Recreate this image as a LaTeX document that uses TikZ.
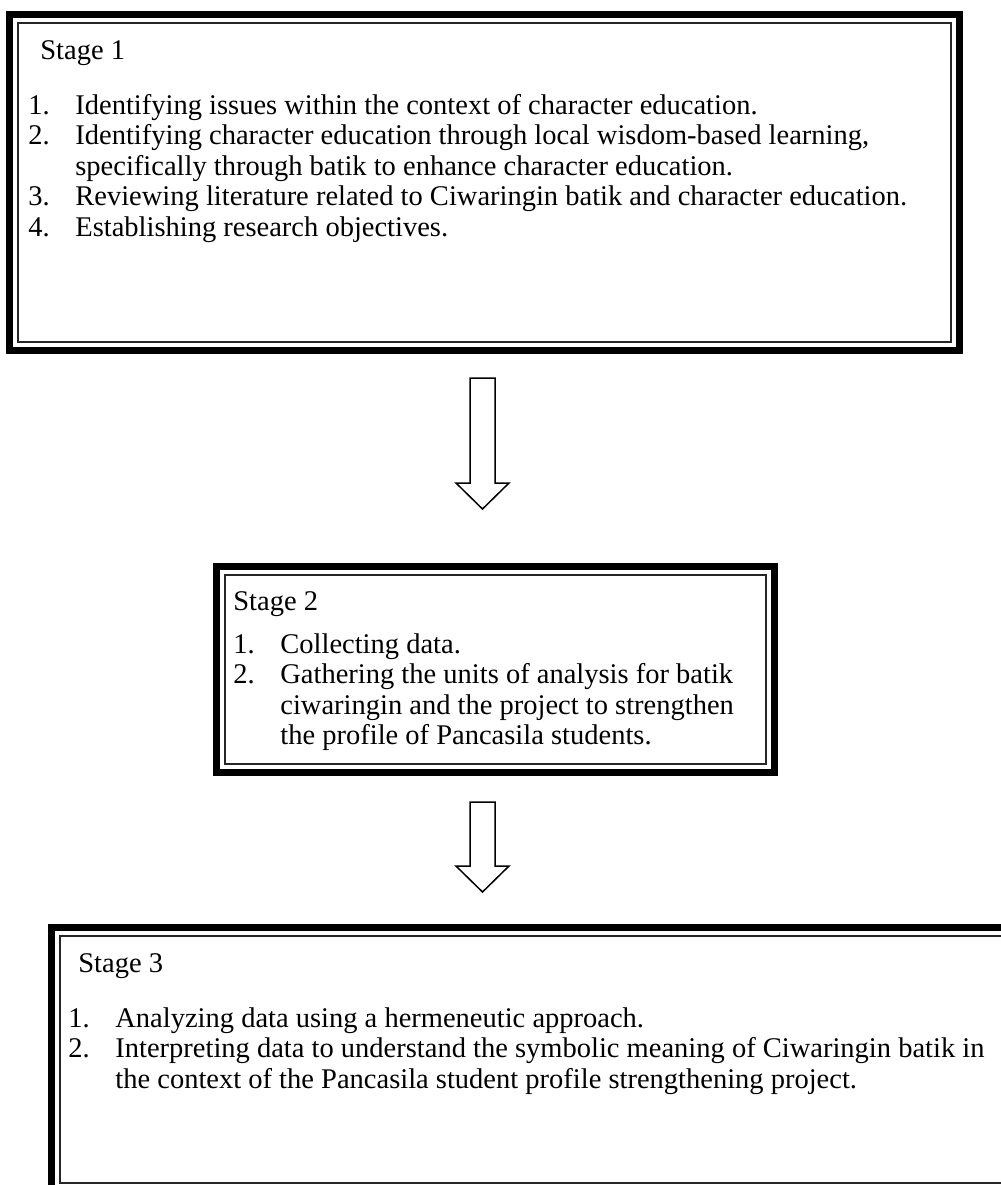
\documentclass[tikz,border=0pt]{standalone}
\usepackage{fontspec}
\setmainfont{Liberation Serif}
\usetikzlibrary{calc,fit}

\tikzset{
  stagebox/.style={draw, line width=3.5pt, inner sep=0pt, outer sep=0pt},
  innerline/.style={draw=black!85, line width=1pt},
  stagetext/.style={anchor=base west, inner sep=0pt, font=\fontsize{14.25pt}{15.25pt}\selectfont},
  arrowline/.style={draw, line width=0.75pt, line join=miter, fill=white}
}

% Blockpfeil von #1 nach #2
\newcommand{\stagearrow}[2]{%
  \draw[arrowline] ($(#1)+(-12.5,0)$) -- ($(#2)+(-12.5,-26)$) -- ($(#2)+(-26.5,-26)$)
    -- (#2) -- ($(#2)+(26.5,-26)$) -- ($(#2)+(12.5,-26)$) -- ($(#1)+(12.5,0)$) -- cycle;}

\begin{document}
\begin{tikzpicture}[x=0.5pt, y=-0.5pt]
        \useasboundingbox (0,0) rectangle (1001,1185);
        \clip (0,0) rectangle (1001,1185);
        \fill[white] (0,0) rectangle (1001,1185);

        % Kästchen
        \coordinate (c1a) at (9.5,14);   \coordinate (c1b) at (959.5,350.5);
        \coordinate (c2a) at (216.5,566.5); \coordinate (c2b) at (774.5,772);
        \coordinate (c3a) at (51,927.5); \coordinate (c3b) at (1012,1191);
        \node[stagebox, fit=(c1a)(c1b)] (s1) {};
        \node[stagebox, fit=(c2a)(c2b)] (s2) {};
        \node[stagebox, fit=(c3a)(c3b)] (s3) {};
        \draw[innerline] ($(s1.north west)+(8.5,8.5)$) rectangle ($(s1.south east)+(-8.5,-8.5)$);
        \draw[innerline] ($(s2.north west)+(8.5,8.5)$) rectangle ($(s2.south east)+(-8.5,-8.5)$);
        \draw[innerline] ($(s3.north west)+(8.5,8.5)$) rectangle ($(s3.south east)+(-8.5,-8.5)$);

        % Pfeile
        \coordinate (a1s) at (482.5,378); \coordinate (a1e) at (482.5,509);
        \coordinate (a2s) at (482.5,802); \coordinate (a2e) at (482.5,892);
        \stagearrow{a1s}{a1e}
        \stagearrow{a2s}{a2e}

        % Texte
        \node[stagetext] (h1) at (40,59) {Stage 1};
        \node[stagetext] (l1) at (28,114) {\begin{tabular}[t]{@{}p{23.5pt}@{}l@{}}
          1. & Identifying issues within the context of character education.\\
          2. & Identifying character education through local wisdom-based learning,\\
             & specifically through batik to enhance character education.\\
          3. & Reviewing literature related to Ciwaringin batik and character education.\\
          4. & Establishing research objectives.
        \end{tabular}};

        \node[stagetext] (h2) at (233,610) {Stage 2};
        \node[stagetext] (l2) at (233,653) {\begin{tabular}[t]{@{}p{23.5pt}@{}l@{}}
          1. & Collecting data.\\
          2. & Gathering the units of analysis for batik\\
             & ciwaringin and the project to strengthen\\
             & the profile of Pancasila students.
        \end{tabular}};

        \node[stagetext] (h3) at (78,972) {Stage 3};
        \node[stagetext] (l3) at (68,1027) {\begin{tabular}[t]{@{}p{23.5pt}@{}l@{}}
          1. & Analyzing data using a hermeneutic approach.\\
          2. & Interpreting data to understand the symbolic meaning of Ciwaringin batik in\\
             & the context of the Pancasila student profile strengthening project.
        \end{tabular}};

    \end{tikzpicture}
\end{document}
